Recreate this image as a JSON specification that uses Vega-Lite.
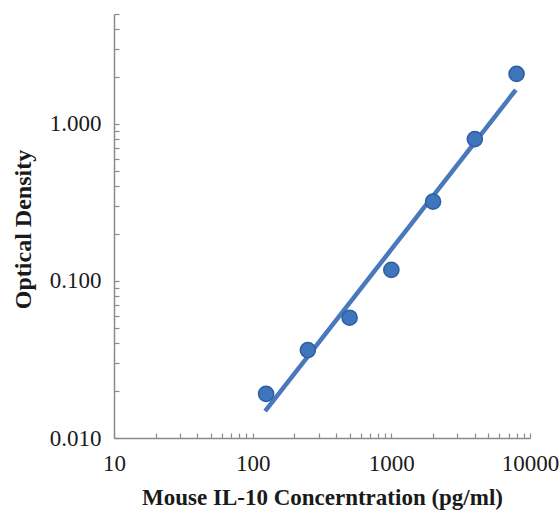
{
  "$schema": "https://vega.github.io/schema/vega-lite/v6.json",
  "autosize": {"type": "none"},
  "padding": {"left": 114, "top": 14, "right": 30, "bottom": 80},
  "width": 416,
  "height": 424,
  "background": "white",
  "config": {
    "view": {"stroke": null},
    "axis": {
      "labelFont": "Liberation Serif",
      "titleFont": "Liberation Serif",
      "labelFontSize": 23,
      "titleFontSize": 23,
      "titleFontWeight": "bold",
      "labelColor": "#1a1a1a",
      "titleColor": "#1a1a1a",
      "domainColor": "#8a8a8a",
      "domainWidth": 1.5,
      "tickColor": "#8a8a8a",
      "tickWidth": 1.2,
      "grid": false
    }
  },
  "data": {
    "values": [
      {"conc": 125, "od": 0.0191},
      {"conc": 250, "od": 0.0363},
      {"conc": 500, "od": 0.0583},
      {"conc": 1000, "od": 0.1175},
      {"conc": 2000, "od": 0.32},
      {"conc": 4000, "od": 0.799},
      {"conc": 8000, "od": 2.08}
    ]
  },
  "encoding": {
    "x": {
      "field": "conc",
      "type": "quantitative",
      "scale": {"type": "log", "domain": [10, 10000], "nice": false},
      "axis": {
        "title": "Mouse IL-10 Concerntration (pg/ml)",
        "values": [10,20,30,40,50,60,70,80,90,100,200,300,400,500,600,700,800,900,1000,2000,3000,4000,5000,6000,7000,8000,9000,10000],
        "labelExpr": "indexof([10,100,1000,10000], datum.value) >= 0 ? format(datum.value, 'd') : ''",
        "tickSize": -5,
        "labelPadding": 19,
        "titleY": 66,
        "titleBaseline": "alphabetic",
        "labelFlush": false,
        "labelOverlap": false
      }
    },
    "y": {
      "field": "od",
      "type": "quantitative",
      "scale": {"type": "log", "domain": [0.01, 5], "nice": false},
      "axis": {
        "title": "Optical Density",
        "titleFontSize": 24,
        "values": [0.01,0.02,0.03,0.04,0.05,0.06,0.07,0.08,0.09,0.1,0.2,0.3,0.4,0.5,0.6,0.7,0.8,0.9,1,2,3,4,5],
        "labelExpr": "indexof([0.01,0.1,1], datum.value) >= 0 ? format(datum.value, '.3f') : ''",
        "tickSize": -5,
        "labelPadding": 18,
        "titleX": -84,
        "titleY": 215,
        "titleBaseline": "alphabetic",
        "labelFlush": false,
        "labelOverlap": false
      }
    }
  },
  "layer": [
    {
      "transform": [
        {"regression": "od", "on": "conc", "method": "pow", "extent": [123, 7900]}
      ],
      "mark": {"type": "line", "color": "#4a78bd", "strokeWidth": 4.5, "strokeCap": "butt"}
    },
    {
      "mark": {"type": "circle", "size": 230, "color": "#3f75bd", "opacity": 1, "stroke": "#2f5f9f", "strokeWidth": 1.5}
    }
  ]
}
